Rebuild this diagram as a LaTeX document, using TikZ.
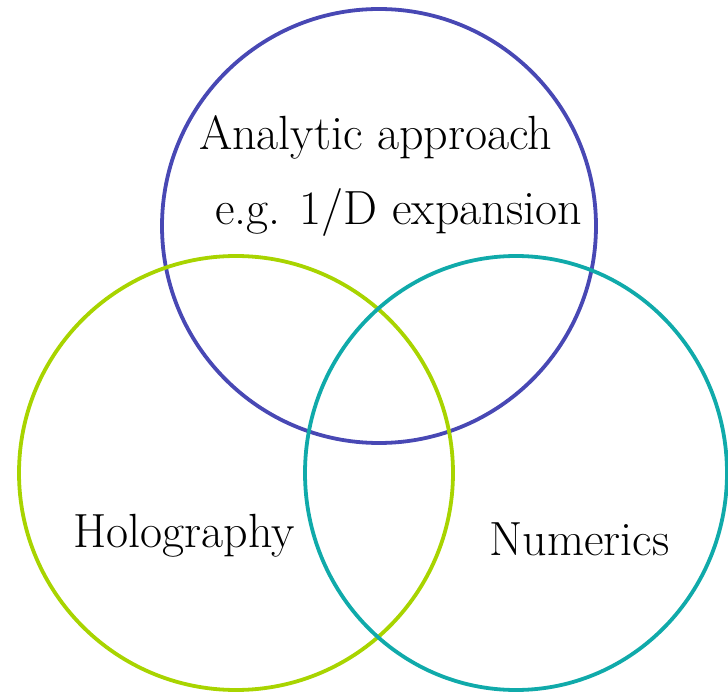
\documentclass[tikz,border=0pt]{standalone}
\usepackage{tikz}

\definecolor{venblue}{RGB}{72,72,180}
\definecolor{vengreen}{RGB}{168,212,0}
\definecolor{venteal}{RGB}{16,170,170}

\begin{document}
\begin{tikzpicture}[x=1pt,y=-1pt,
    ring/.style={line width=3.8pt},
    lbl/.style={anchor=base,inner sep=0pt,font=\fontsize{48}{56}\selectfont}]
  \useasboundingbox (0,0) rectangle (728,692);
  % Circles
  \draw[ring,venblue] (379,226) circle[radius=217pt];
  \draw[ring,vengreen] (236,473) circle[radius=217pt];
  \draw[ring,venteal] (516,473) ellipse[x radius=211pt,y radius=217pt];
  % Labels
  \node[lbl] (analytic) at (375.5,150) {Analytic approach};
  \node[lbl] (expansion) at (398.5,225) {e.g. 1/D expansion};
  \node[lbl] (holo) at (184,547) {Holography};
  \node[lbl] (numerics) at (579.5,555) {Numerics};
\end{tikzpicture}
\end{document}
